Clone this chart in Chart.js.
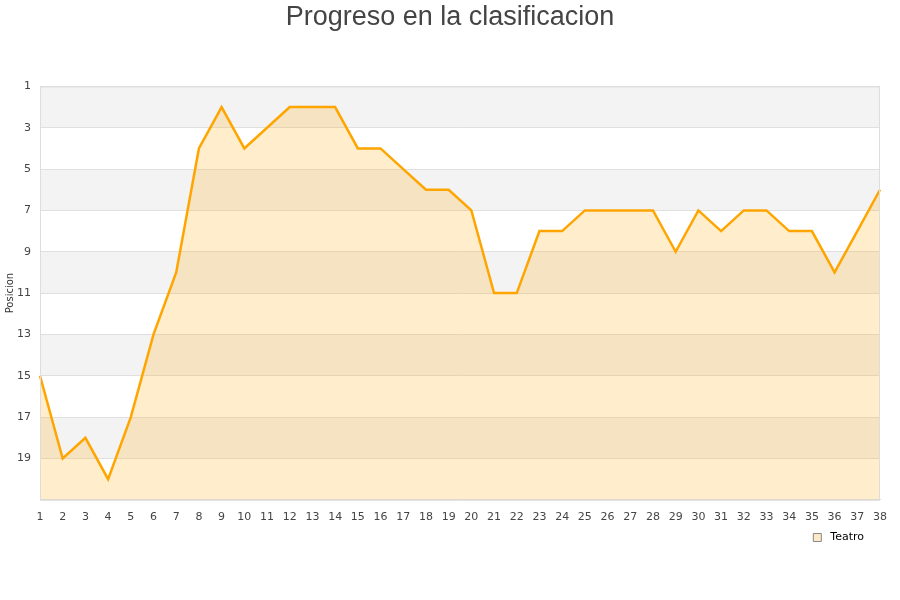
<!DOCTYPE html>
<html>
<head>
<meta charset="utf-8">
<script src="https://cdn.jsdelivr.net/npm/chart.js@4"></script>
<style>
    html, body { margin: 0; padding: 0; background: #fff; }
</style>
</head>
<body>
<canvas id="myChart" width="900" height="600"></canvas>
<script>
// Jornadas y posicion del equipo
const jornadas = ["1","2","3","4","5","6","7","8","9","10","11","12","13","14","15","16","17","18","19",
    "20","21","22","23","24","25","26","27","28","29","30","31","32","33","34","35","36","37","38"];
const posiciones = [15, 19, 18, 20, 17, 13, 10, 4, 2, 4, 3, 2, 2, 2, 4, 4, 5, 6, 6,
    7, 11, 11, 8, 8, 7, 7, 7, 7, 9, 7, 8, 7, 7, 8, 8, 10, 8, 6];
const posicionTicks = [1, 3, 5, 7, 9, 11, 13, 15, 17, 19];
const serieNombre = "Teatro";

// bandas grises alternas, borde del area y leyenda un poco a la izquierda
const bandsPlugin = {
    id: "bands",
    afterLayout: (chart) => {
        if (chart.legend) {
            chart.legend.right -= 31;
        }
    },
    beforeDraw: (chart) => {
        const { ctx, chartArea, scales } = chart;
        const y = scales.y;
        ctx.save();
        ctx.fillStyle = "#f3f3f3";
        for (let i = 0; i < posicionTicks.length; i += 2) {
            const a = y.getPixelForValue(posicionTicks[i]);
            const b = y.getPixelForValue(posicionTicks[i] + 2);
            ctx.fillRect(chartArea.left, a, chartArea.right - chartArea.left, b - a);
        }
        ctx.restore();
    },
    afterDraw: (chart) => {
        const { ctx, chartArea } = chart;
        ctx.save();
        ctx.strokeStyle = "#dddddd";
        ctx.lineWidth = 1;
        ctx.strokeRect(chartArea.left + 0.5, chartArea.top + 0.5,
            chartArea.right - chartArea.left - 1, chartArea.bottom - chartArea.top);
        ctx.restore();
    }
};

const ctx = document.getElementById("myChart").getContext("2d");
const myChart = new Chart(ctx, {
    type: "line",
    data: {
        labels: jornadas,
        datasets: [{
            label: serieNombre,
            data: posiciones,
            borderColor: "#ffa500",
            backgroundColor: "rgba(255,165,0,0.2)",
            borderWidth: 2.5,
            pointRadius: 0,
            lineTension: 0,
            fill: "start"
        }]
    },
    options: {
        responsive: false,
        animation: false,
        layout: { padding: { left: 0, right: 0, top: 0, bottom: 47 } },
        plugins: {
            title: {
                display: true,
                text: "Progreso en la clasificacion",
                color: "#444",
                font: { family: "Liberation Sans", size: 27, weight: "normal" },
                padding: { top: 1, bottom: 53 }
            },
            legend: {
                position: "bottom",
                align: "end",
                labels: {
                    boxWidth: 8,
                    boxHeight: 8,
                    padding: 5,
                    color: "#000",
                    font: { family: "DejaVu Sans", size: 11 },
                    generateLabels: () => [{
                        text: " " + serieNombre,
                        fillStyle: "#fde9c6",
                        strokeStyle: "#888",
                        lineWidth: 1,
                        datasetIndex: 0
                    }]
                }
            },
            tooltip: { enabled: false }
        },
        scales: {
            x: {
                grid: { display: false },
                border: { color: "#dddddd" },
                afterFit: (axis) => {
                    axis.paddingRight = 20;
                },
                ticks: {
                    color: "#444",
                    autoSkip: false,
                    maxRotation: 0,
                    font: { family: "DejaVu Sans", size: 11 }
                }
            },
            y: {
                reverse: true,
                min: 1,
                max: 21,
                afterBuildTicks: (axis) => {
                    axis.ticks = posicionTicks.map(v => ({ value: v }));
                },
                afterFit: (axis) => {
                    axis.width = 40;
                },
                grid: { color: "#e0e0e0", drawTicks: false },
                border: { color: "#dddddd" },
                ticks: {
                    color: "#444",
                    font: { family: "DejaVu Sans", size: 11 },
                    padding: 9
                },
                title: {
                    display: true,
                    text: "Posicion",
                    color: "#333",
                    font: { family: "DejaVu Sans", size: 10 },
                    padding: { top: 4, bottom: 4 }
                }
            }
        }
    },
    plugins: [bandsPlugin]
});
</script>
</body>
</html>
